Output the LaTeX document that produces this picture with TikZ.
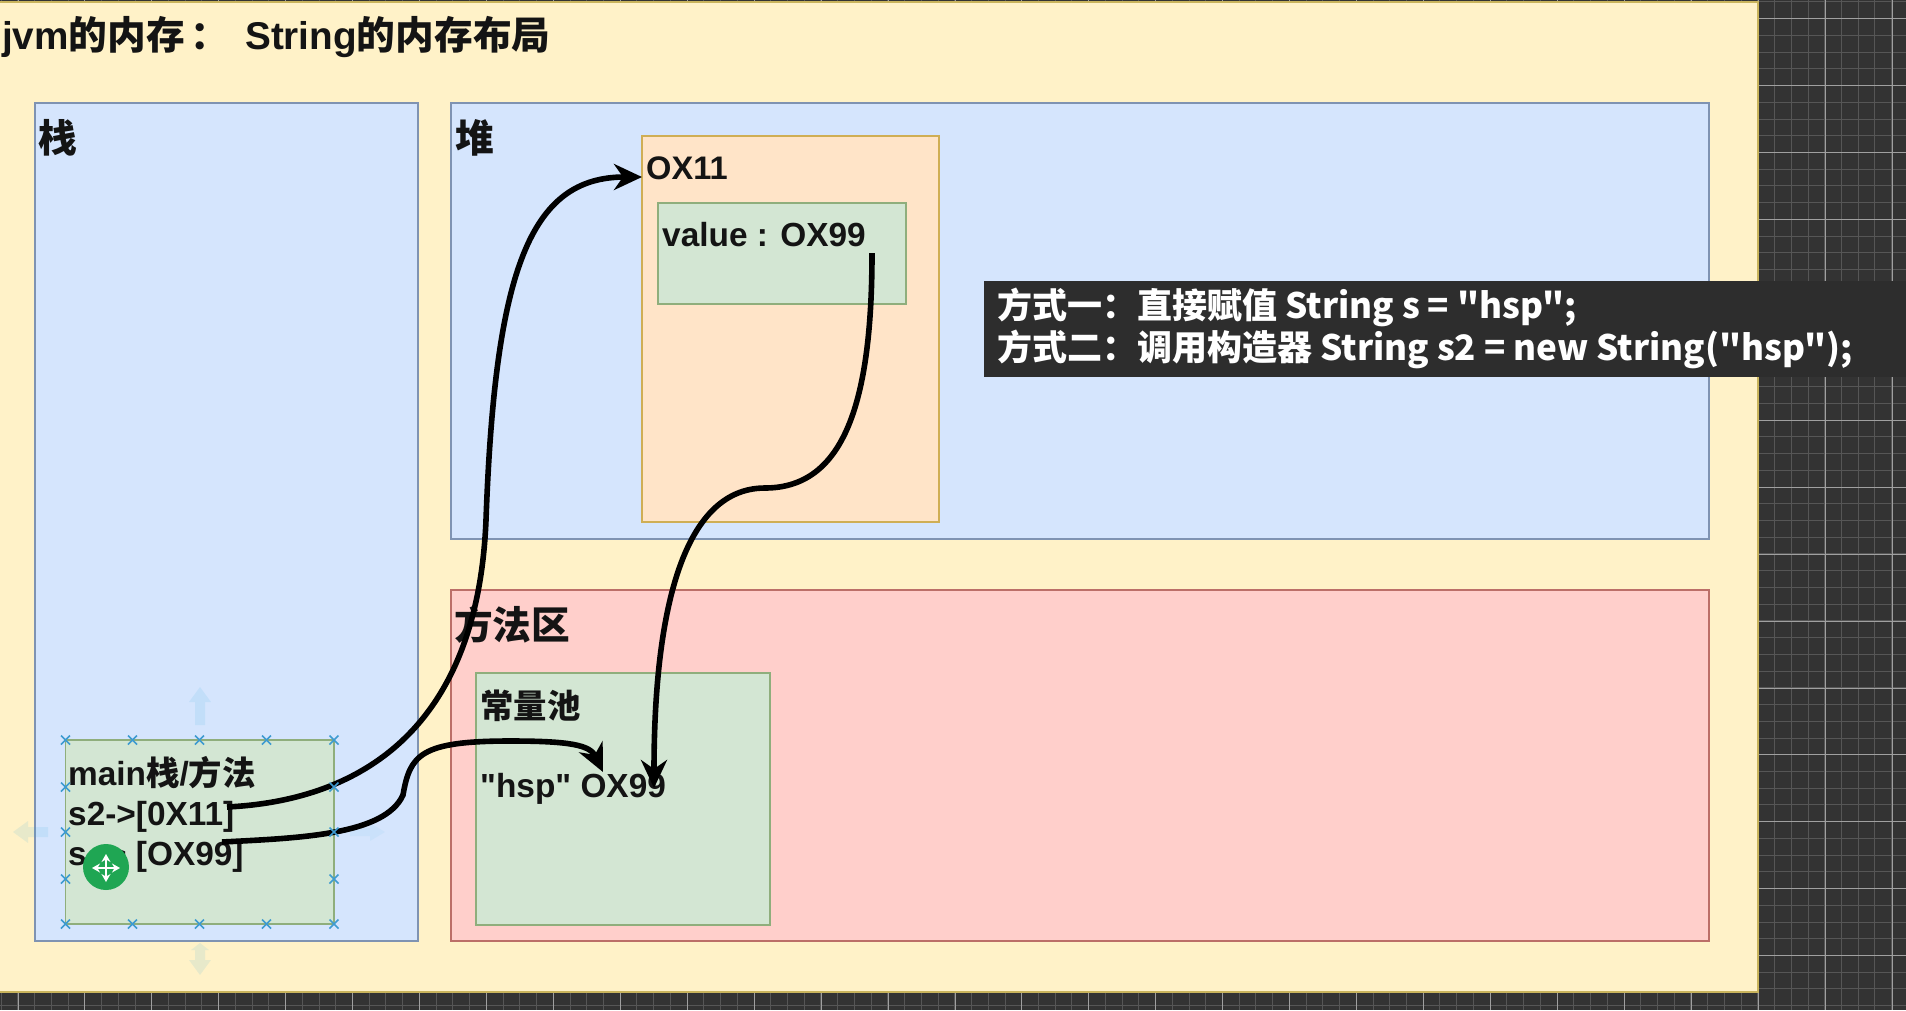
\documentclass[tikz,border=0pt]{standalone}
\usepackage{fontspec}
\usetikzlibrary{arrows.meta}
\newfontfamily\lib{Liberation Sans}
\newfontfamily\cjk{Noto Sans CJK SC}
\newcommand{\cj}[1]{{\cjk #1}}
\definecolor{canvas}{HTML}{333333}
\definecolor{gminor}{HTML}{565656}
\definecolor{gmajor}{HTML}{A0A0A0}
\definecolor{yfill}{HTML}{FFF2C8}
\definecolor{yline}{HTML}{C9B45C}
\definecolor{bfill}{HTML}{D5E5FD}
\definecolor{bline}{HTML}{7F93B2}
\definecolor{rfill}{HTML}{FFCFCB}
\definecolor{rline}{HTML}{BC6F68}
\definecolor{gfill}{HTML}{D3E6D3}
\definecolor{gline}{HTML}{8FAE7C}
\definecolor{ofill}{HTML}{FFE4C8}
\definecolor{oline}{HTML}{CFAE55}
\definecolor{capbg}{HTML}{2D2D2D}
\definecolor{handle}{HTML}{3E9BD0}
\definecolor{hint}{HTML}{29A8E0}
\definecolor{movegreen}{HTML}{1FA653}
\tikzset{
  box/.style={draw,line width=1.6pt,inner sep=0pt,outer sep=0pt,anchor=north west},
  bluebox/.style={box,fill=bfill,draw=bline},
  redbox/.style={box,fill=rfill,draw=rline},
  greenbox/.style={box,fill=gfill,draw=gline},
  orangebox/.style={box,fill=ofill,draw=oline},
  big/.style={inner sep=0pt,anchor=base west,text=black!92,font=\lib\bfseries\fontsize{38.7}{46}\selectfont},
  small/.style={inner sep=0pt,anchor=base west,text=black!92,font=\lib\bfseries\fontsize{33.4}{40}\selectfont},
  captext/.style={inner sep=0pt,anchor=base west,text=white,font=\cjk\bfseries\fontsize{35}{40}\selectfont},
  link/.style={line width=5.6pt,black,-{Stealth[length=28pt,width=26pt,inset=9pt]}},
  cross/.style={handle,line width=1.6pt},
  hintarrow/.style={draw=none,fill=hint,fill opacity=.11},
  moveicon/.style={white,line width=2pt,{Stealth[length=8pt,width=9pt]}-{Stealth[length=8pt,width=9pt]}}
}
\begin{document}
\begin{tikzpicture}[x=1pt,y=-1pt]
\useasboundingbox (0,0) rectangle (1906,1010);
% canvas with grid
\fill[canvas] (0,0) rectangle (1906,1010);
\foreach \k in {0,...,114} {
  \pgfmathsetmacro{\gx}{1.2+16.73*\k}
  \draw[gminor,line width=1pt] (\gx,0) -- (\gx,1010);
}
\foreach \k in {0,...,60} {
  \pgfmathsetmacro{\gy}{1.9+16.73*\k}
  \draw[gminor,line width=1pt] (0,\gy) -- (1906,\gy);
}
\foreach \k in {0,...,28} {
  \pgfmathsetmacro{\gx}{18+66.93*\k}
  \draw[gmajor,line width=1pt] (\gx,0) -- (\gx,1010);
}
\foreach \k in {0,...,15} {
  \pgfmathsetmacro{\gy}{18.7+66.93*\k}
  \draw[gmajor,line width=1pt] (0,\gy) -- (1906,\gy);
}
% containers
\node[box,fill=yfill,draw=yline,minimum width=1759pt,minimum height=990pt] (page) at (-1,2) {};
\node[bluebox,minimum width=383pt,minimum height=838pt] (stack) at (35,103) {};
\node[bluebox,minimum width=1258pt,minimum height=436pt] (heap) at (451,103) {};
\node[redbox,minimum width=1258pt,minimum height=351pt] (method) at (451,590) {};
\node[orangebox,minimum width=297pt,minimum height=386pt] (obj) at (642,136) {};
\node[greenbox,minimum width=248pt,minimum height=101pt] (valuebox) at (658,203) {};
\node[greenbox,minimum width=294pt,minimum height=252pt] (pool) at (476,673) {};
\node[greenbox,minimum width=268.5pt,minimum height=184pt] (mainbox) at (65.5,740) {};
% selection hint arrows
\fill[hintarrow] (200,687) -- (211,702) -- (205,702) -- (205,725) -- (195,725) -- (195,702) -- (189,702) -- cycle;
\fill[hintarrow] (200,975) -- (211,960) -- (205,960) -- (205,950) -- (209,950) -- (200,943) -- (191,950) -- (195,950) -- (195,960) -- (189,960) -- cycle;
\fill[hintarrow] (13,832) -- (28,821) -- (28,827) -- (48,827) -- (48,837) -- (28,837) -- (28,843) -- cycle;
\fill[hintarrow,fill opacity=.06] (385,832) -- (370,823) -- (370,828) -- (350,828) -- (350,836) -- (370,836) -- (370,841) -- cycle;
% labels
\node[big] (title) at (2,49) {jvm\cj{的内存}\hspace{6pt}\cj{：}};
\node[big] (title2) at (245,49) {String\cj{的内存布局}};
\node[big] (stacklabel) at (38,152) {\cj{栈}};
\node[big] (heaplabel) at (455,152) {\cj{堆}};
\node[small,font=\lib\bfseries\fontsize{32.6}{40}\selectfont] (objlabel) at (646,179) {OX11};
\node[small] (valuelabel) at (662,246) {value : OX99};
\node[small] (poollabel) at (480,718) {\cj{常量池}};
\node[small] (hsplabel) at (480,797) {"hsp" OX99};
\node[small] (mainlabel) at (68,785) {main\cj{栈}/\cj{方法}};
\node[small] (s2label) at (68,825) {s2->[0X11]};
\node[small] (slabel) at (68,865) {s -> [OX99]};
\node[big] (methodlabel) at (454,639) {\cj{方法区}};
% connector ends
\coordinate (s2start) at (227,807);
\coordinate (s2mid) at (486,520);
\coordinate (objend) at (642,177);
\coordinate (sstart) at (222,842);
\coordinate (smid) at (403,795);
\coordinate (stop) at (510,741);
\coordinate (hspend) at (603,772);
\coordinate (vstart) at (872,253);
\coordinate (vmid) at (765,488);
\coordinate (vend) at (654,788);
% connectors
\draw[link] (s2start) .. controls (370,800) and (478,720) .. (s2mid)
   .. controls (495,270) and (530,177) .. (objend);
\draw[link] (sstart) .. controls (300,838) and (385,835) .. (smid)
   .. controls (410,755) and (420,741) .. (stop)
   .. controls (570,741) and (590,745) .. (hspend);
\draw[link] (vstart) .. controls (872,400) and (845,488) .. (vmid)
   .. controls (680,488) and (654,620) .. (vend);
% selection handles
\foreach \hx in {65.5,132.5,199.5,266.5,334} {
  \foreach \hy in {740,924} {
    \draw[cross] (\hx-4.5,\hy-4.5) -- (\hx+4.5,\hy+4.5) (\hx-4.5,\hy+4.5) -- (\hx+4.5,\hy-4.5);
  }
}
\foreach \hx in {65.5,334} {
  \foreach \hy in {787,832,879} {
    \draw[cross] (\hx-4.5,\hy-4.5) -- (\hx+4.5,\hy+4.5) (\hx-4.5,\hy+4.5) -- (\hx+4.5,\hy-4.5);
  }
}
% move cursor
\fill[movegreen] (106,867) circle (23);
\draw[moveicon] (92,868) -- (120,868);
\draw[moveicon] (106,854) -- (106,882);
% caption band
\node[box,draw=none,fill=capbg,minimum width=923pt,minimum height=96pt] (capband) at (984,281) {};
\node[captext] (cap1) at (997,318) {方式一：直接赋值 String s = "hsp";};
\node[captext] (cap2) at (997,360) {方式二：调用构造器 String s2 = new String("hsp");};
\end{tikzpicture}
\end{document}
